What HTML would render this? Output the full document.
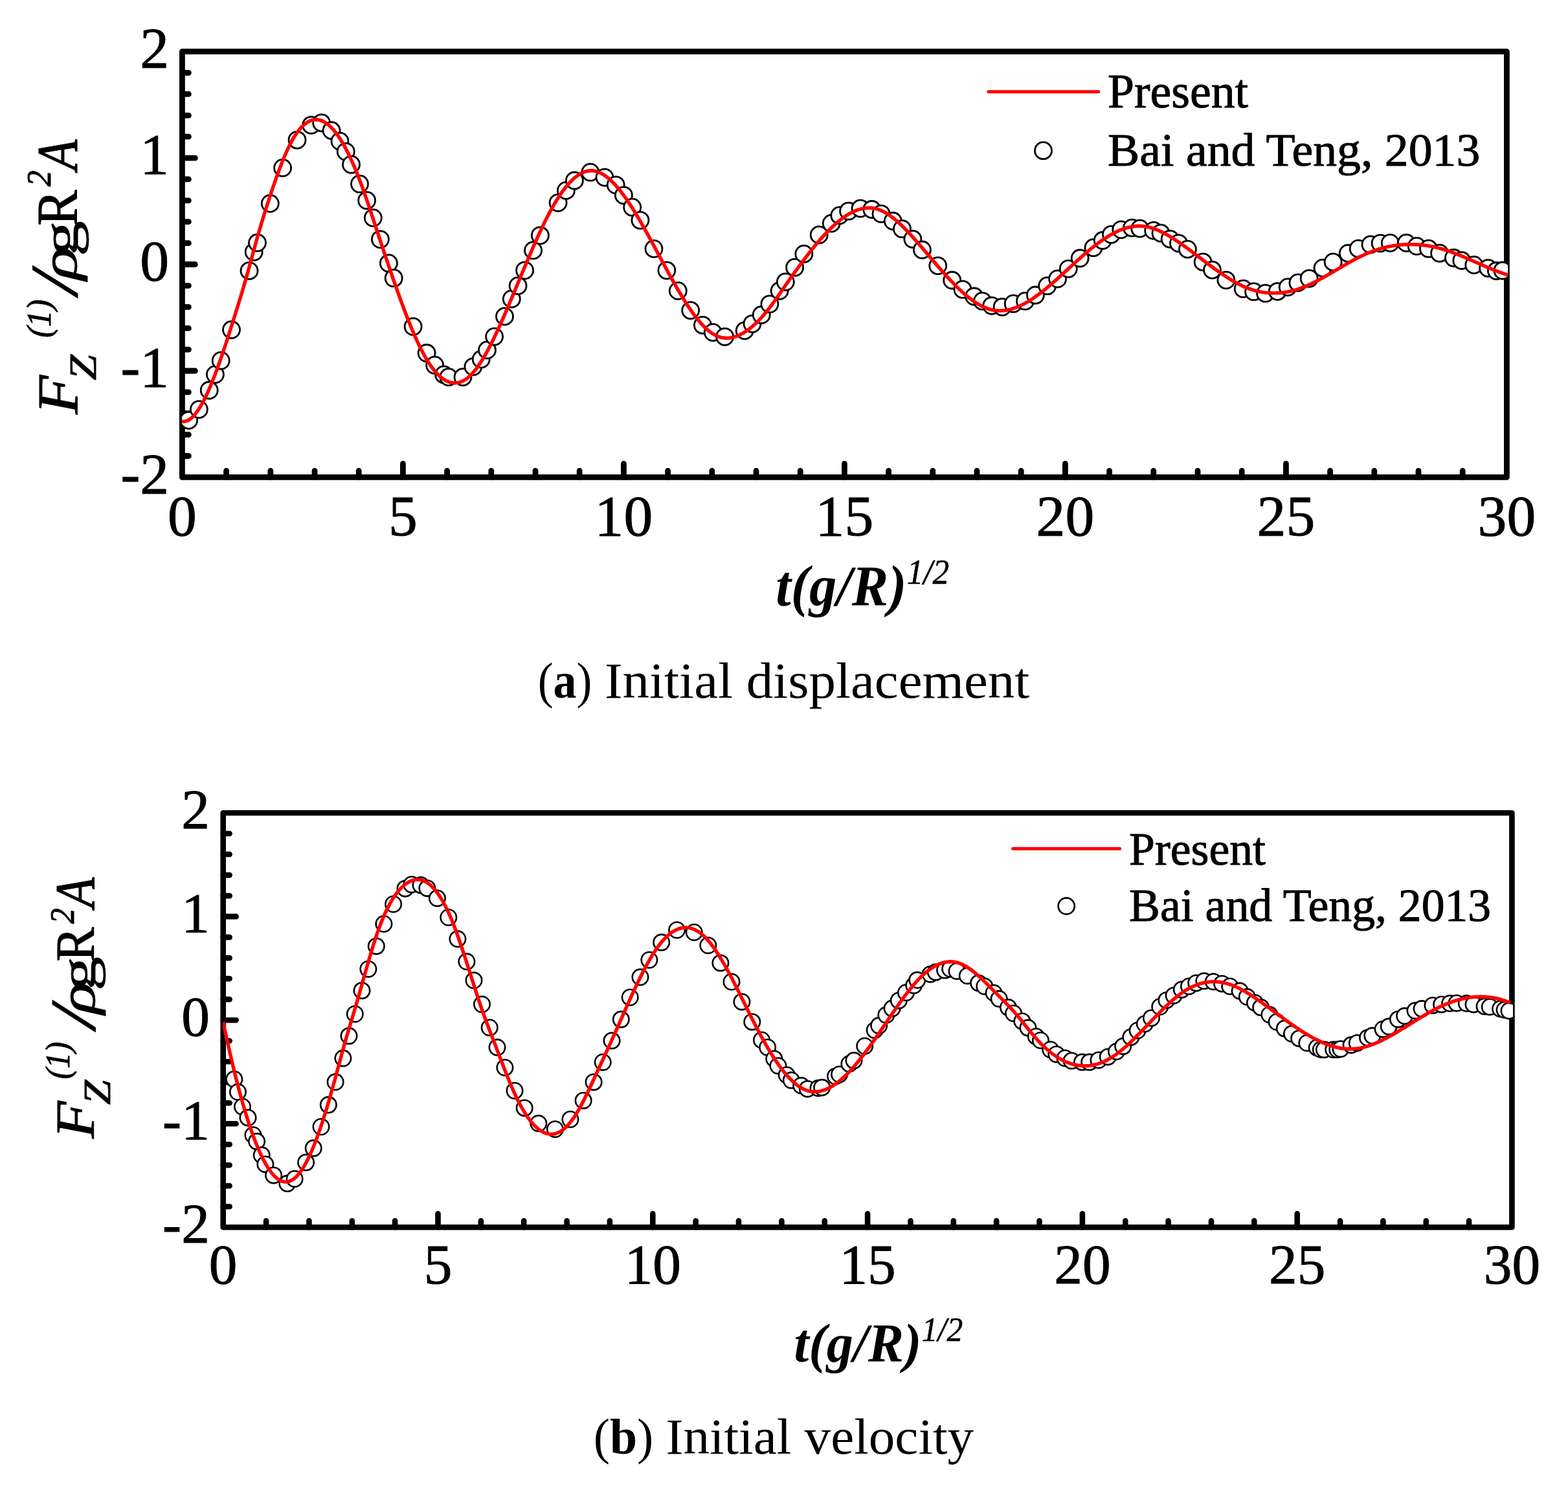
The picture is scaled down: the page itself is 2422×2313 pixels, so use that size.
<!DOCTYPE html>
<html><head><meta charset="utf-8"><title>Figure</title>
<style>html,body{margin:0;padding:0;background:#fff;} svg{display:block;} text{font-family:"Liberation Serif","Times New Roman",serif;fill:#000;stroke:#000;stroke-linejoin:round;}</style>
</head><body>
<svg xmlns="http://www.w3.org/2000/svg" width="2422" height="2313" viewBox="0 0 2422 2313">
<rect width="2422" height="2313" fill="#fff"/>
<rect x="281.4" y="79.6" width="2046.0" height="657.8" fill="none" stroke="#000" stroke-width="8.8" stroke-linejoin="round"/>
<path d="M349.6,737.4V727.4M417.8,737.4V727.4M486.0,737.4V727.4M554.2,737.4V727.4M622.4,737.4V716.4M690.6,737.4V727.4M758.8,737.4V727.4M827.0,737.4V727.4M895.2,737.4V727.4M963.4,737.4V716.4M1031.6,737.4V727.4M1099.8,737.4V727.4M1168.0,737.4V727.4M1236.2,737.4V727.4M1304.4,737.4V716.4M1372.6,737.4V727.4M1440.8,737.4V727.4M1509.0,737.4V727.4M1577.2,737.4V727.4M1645.4,737.4V716.4M1713.6,737.4V727.4M1781.8,737.4V727.4M1850.0,737.4V727.4M1918.2,737.4V727.4M1986.4,737.4V716.4M2054.6,737.4V727.4M2122.8,737.4V727.4M2191.0,737.4V727.4M2259.2,737.4V727.4M281.4,704.5H291.4M281.4,671.6H291.4M281.4,638.7H291.4M281.4,605.8H291.4M281.4,573.0H301.4M281.4,540.1H291.4M281.4,507.2H291.4M281.4,474.3H291.4M281.4,441.4H291.4M281.4,408.5H301.4M281.4,375.6H291.4M281.4,342.7H291.4M281.4,309.8H291.4M281.4,276.9H291.4M281.4,244.1H301.4M281.4,211.2H291.4M281.4,178.3H291.4M281.4,145.4H291.4M281.4,112.5H291.4" stroke="#000" stroke-width="8.8" stroke-linecap="round" fill="none"/>
<g font-size="89.6" stroke-width="1.0"><text x="261.1" y="104.0" text-anchor="end">2</text><text x="261.1" y="268.4" text-anchor="end">1</text><text x="261.1" y="432.9" text-anchor="end">0</text><text x="261.1" y="597.4" text-anchor="end">-1</text><text x="261.1" y="761.8" text-anchor="end">-2</text><text x="281.4" y="827.0" text-anchor="middle">0</text><text x="622.4" y="827.0" text-anchor="middle">5</text><text x="963.4" y="827.0" text-anchor="middle">10</text><text x="1304.4" y="827.0" text-anchor="middle">15</text><text x="1645.4" y="827.0" text-anchor="middle">20</text><text x="1986.4" y="827.0" text-anchor="middle">25</text><text x="2327.4" y="827.0" text-anchor="middle">30</text></g>
<clipPath id="clipa"><rect x="280.9" y="59.599999999999994" width="2048.3" height="697.8"/></clipPath>
<g clip-path="url(#clipa)"><g fill="#fff" stroke="#000" stroke-width="2.8"><circle cx="291.6" cy="649.3" r="13.0"/><circle cx="307.4" cy="632.6" r="13.0"/><circle cx="323.2" cy="603.0" r="13.0"/><circle cx="332.4" cy="578.6" r="13.0"/><circle cx="341.2" cy="557.2" r="13.0"/><circle cx="357.5" cy="509.5" r="13.0"/><circle cx="385.0" cy="418.4" r="13.0"/><circle cx="392.2" cy="389.2" r="13.0"/><circle cx="397.5" cy="375.1" r="13.0"/><circle cx="417.3" cy="314.4" r="13.0"/><circle cx="436.6" cy="259.4" r="13.0"/><circle cx="459.0" cy="216.3" r="13.0"/><circle cx="480.7" cy="193.3" r="13.0"/><circle cx="496.7" cy="189.9" r="13.0"/><circle cx="512.0" cy="201.6" r="13.0"/><circle cx="525.0" cy="218.2" r="13.0"/><circle cx="534.2" cy="234.3" r="13.0"/><circle cx="542.5" cy="254.2" r="13.0"/><circle cx="555.5" cy="284.2" r="13.0"/><circle cx="566.6" cy="309.7" r="13.0"/><circle cx="576.3" cy="336.6" r="13.0"/><circle cx="587.4" cy="369.8" r="13.0"/><circle cx="600.4" cy="406.7" r="13.0"/><circle cx="608.2" cy="429.7" r="13.0"/><circle cx="638.1" cy="504.6" r="13.0"/><circle cx="659.1" cy="545.5" r="13.0"/><circle cx="671.6" cy="564.2" r="13.0"/><circle cx="685.6" cy="578.9" r="13.0"/><circle cx="692.9" cy="582.6" r="13.0"/><circle cx="715.0" cy="582.6" r="13.0"/><circle cx="730.9" cy="566.6" r="13.0"/><circle cx="743.2" cy="555.1" r="13.0"/><circle cx="752.5" cy="540.9" r="13.0"/><circle cx="763.6" cy="520.1" r="13.0"/><circle cx="779.5" cy="488.9" r="13.0"/><circle cx="790.3" cy="461.9" r="13.0"/><circle cx="800.1" cy="441.6" r="13.0"/><circle cx="810.6" cy="417.8" r="13.0"/><circle cx="823.6" cy="386.9" r="13.0"/><circle cx="834.4" cy="363.8" r="13.0"/><circle cx="862.1" cy="313.3" r="13.0"/><circle cx="874.4" cy="294.4" r="13.0"/><circle cx="887.4" cy="279.0" r="13.0"/><circle cx="911.9" cy="266.2" r="13.0"/><circle cx="934.0" cy="274.1" r="13.0"/><circle cx="951.2" cy="285.8" r="13.0"/><circle cx="963.4" cy="301.8" r="13.0"/><circle cx="976.7" cy="320.2" r="13.0"/><circle cx="988.9" cy="340.3" r="13.0"/><circle cx="1010.0" cy="384.4" r="13.0"/><circle cx="1029.8" cy="417.8" r="13.0"/><circle cx="1047.3" cy="449.4" r="13.0"/><circle cx="1066.7" cy="479.6" r="13.0"/><circle cx="1085.4" cy="502.4" r="13.0"/><circle cx="1101.3" cy="513.6" r="13.0"/><circle cx="1119.6" cy="520.3" r="13.0"/><circle cx="1150.2" cy="510.9" r="13.0"/><circle cx="1162.0" cy="500.3" r="13.0"/><circle cx="1176.2" cy="486.5" r="13.0"/><circle cx="1188.9" cy="469.8" r="13.0"/><circle cx="1204.1" cy="449.4" r="13.0"/><circle cx="1213.3" cy="435.6" r="13.0"/><circle cx="1227.6" cy="413.2" r="13.0"/><circle cx="1241.8" cy="392.4" r="13.0"/><circle cx="1265.2" cy="362.9" r="13.0"/><circle cx="1284.2" cy="345.1" r="13.0"/><circle cx="1296.8" cy="332.9" r="13.0"/><circle cx="1310.6" cy="326.2" r="13.0"/><circle cx="1329.0" cy="322.1" r="13.0"/><circle cx="1346.7" cy="323.5" r="13.0"/><circle cx="1361.0" cy="330.3" r="13.0"/><circle cx="1379.3" cy="341.5" r="13.0"/><circle cx="1393.5" cy="353.7" r="13.0"/><circle cx="1409.9" cy="369.5" r="13.0"/><circle cx="1424.4" cy="386.0" r="13.0"/><circle cx="1448.7" cy="410.6" r="13.0"/><circle cx="1470.7" cy="433.0" r="13.0"/><circle cx="1487.0" cy="447.2" r="13.0"/><circle cx="1504.7" cy="458.0" r="13.0"/><circle cx="1517.5" cy="465.2" r="13.0"/><circle cx="1531.8" cy="472.3" r="13.0"/><circle cx="1548.1" cy="474.3" r="13.0"/><circle cx="1565.2" cy="469.2" r="13.0"/><circle cx="1583.5" cy="465.2" r="13.0"/><circle cx="1599.4" cy="456.0" r="13.0"/><circle cx="1617.7" cy="441.7" r="13.0"/><circle cx="1633.6" cy="430.9" r="13.0"/><circle cx="1650.3" cy="415.3" r="13.0"/><circle cx="1668.2" cy="399.0" r="13.0"/><circle cx="1689.0" cy="382.7" r="13.0"/><circle cx="1703.3" cy="371.5" r="13.0"/><circle cx="1716.5" cy="362.3" r="13.0"/><circle cx="1731.8" cy="354.8" r="13.0"/><circle cx="1748.5" cy="352.1" r="13.0"/><circle cx="1760.7" cy="353.1" r="13.0"/><circle cx="1781.7" cy="356.2" r="13.0"/><circle cx="1793.0" cy="360.2" r="13.0"/><circle cx="1807.2" cy="369.3" r="13.0"/><circle cx="1820.5" cy="375.8" r="13.0"/><circle cx="1834.4" cy="385.1" r="13.0"/><circle cx="1858.2" cy="404.9" r="13.0"/><circle cx="1872.5" cy="417.1" r="13.0"/><circle cx="1893.9" cy="432.8" r="13.0"/><circle cx="1920.3" cy="446.2" r="13.0"/><circle cx="1936.6" cy="450.7" r="13.0"/><circle cx="1954.6" cy="453.2" r="13.0"/><circle cx="1973.3" cy="450.3" r="13.0"/><circle cx="1989.2" cy="443.6" r="13.0"/><circle cx="2004.9" cy="436.9" r="13.0"/><circle cx="2022.2" cy="430.3" r="13.0"/><circle cx="2043.0" cy="414.1" r="13.0"/><circle cx="2059.2" cy="404.9" r="13.0"/><circle cx="2082.3" cy="391.4" r="13.0"/><circle cx="2098.2" cy="384.2" r="13.0"/><circle cx="2117.0" cy="377.9" r="13.0"/><circle cx="2132.1" cy="375.8" r="13.0"/><circle cx="2147.3" cy="375.4" r="13.0"/><circle cx="2172.3" cy="375.4" r="13.0"/><circle cx="2188.3" cy="380.4" r="13.0"/><circle cx="2206.5" cy="384.2" r="13.0"/><circle cx="2223.6" cy="391.2" r="13.0"/><circle cx="2245.5" cy="398.5" r="13.0"/><circle cx="2257.8" cy="402.5" r="13.0"/><circle cx="2276.8" cy="409.4" r="13.0"/><circle cx="2298.6" cy="414.3" r="13.0"/><circle cx="2311.4" cy="418.5" r="13.0"/><circle cx="2321.0" cy="418.0" r="13.0"/></g>
<path d="M281.0,650.9 L283.0,651.2 L285.0,651.1 L287.0,650.7 L289.0,650.1 L291.0,649.2 L293.0,647.9 L295.0,646.4 L297.0,644.7 L299.0,642.7 L301.0,640.4 L303.0,637.9 L305.0,635.2 L307.0,632.3 L309.0,629.1 L311.0,625.7 L313.0,622.1 L315.0,618.3 L317.0,614.3 L319.0,610.2 L321.0,605.8 L323.0,601.3 L325.0,596.6 L327.0,591.8 L329.0,586.8 L331.0,581.7 L333.0,576.5 L335.0,571.1 L337.0,565.6 L339.0,560.0 L341.0,554.3 L343.0,548.5 L345.0,542.6 L347.0,536.6 L349.0,530.5 L351.0,524.4 L353.0,518.2 L355.0,512.0 L357.0,505.7 L359.0,499.4 L361.0,493.0 L363.0,486.6 L365.0,480.2 L367.0,473.8 L369.0,467.3 L371.0,460.8 L373.0,454.2 L375.0,447.5 L377.0,440.7 L379.0,433.8 L381.0,426.8 L383.0,419.7 L385.0,412.4 L387.0,405.0 L389.0,397.7 L391.0,390.3 L393.0,383.0 L395.0,375.7 L397.0,368.6 L399.0,361.7 L401.0,354.8 L403.0,348.0 L405.0,341.3 L407.0,334.8 L409.0,328.3 L411.0,322.0 L413.0,315.7 L415.0,309.5 L417.0,303.4 L419.0,297.4 L421.0,291.4 L423.0,285.5 L425.0,279.8 L427.0,274.1 L429.0,268.5 L431.0,263.1 L433.0,257.8 L435.0,252.6 L437.0,247.6 L439.0,242.7 L441.0,238.0 L443.0,233.5 L445.0,229.2 L447.0,225.1 L449.0,221.1 L451.0,217.4 L453.0,213.9 L455.0,210.6 L457.0,207.5 L459.0,204.7 L461.0,202.0 L463.0,199.5 L465.0,197.2 L467.0,195.1 L469.0,193.2 L471.0,191.5 L473.0,190.0 L475.0,188.7 L477.0,187.6 L479.0,186.7 L481.0,185.9 L483.0,185.4 L485.0,185.0 L487.0,184.8 L489.0,184.8 L491.0,185.0 L493.0,185.3 L495.0,185.9 L497.0,186.6 L499.0,187.4 L501.0,188.5 L503.0,189.7 L505.0,191.1 L507.0,192.7 L509.0,194.4 L511.0,196.3 L513.0,198.3 L515.0,200.5 L517.0,202.9 L519.0,205.5 L521.0,208.2 L523.0,211.0 L525.0,214.0 L527.0,217.2 L529.0,220.5 L531.0,223.9 L533.0,227.6 L535.0,231.3 L537.0,235.2 L539.0,239.3 L541.0,243.5 L543.0,247.8 L545.0,252.3 L547.0,256.9 L549.0,261.6 L551.0,266.5 L553.0,271.5 L555.0,276.7 L557.0,282.0 L559.0,287.4 L561.0,292.9 L563.0,298.6 L565.0,304.3 L567.0,310.1 L569.0,316.0 L571.0,322.0 L573.0,328.0 L575.0,334.1 L577.0,340.2 L579.0,346.3 L581.0,352.4 L583.0,358.5 L585.0,364.7 L587.0,370.7 L589.0,376.8 L591.0,382.8 L593.0,388.8 L595.0,394.8 L597.0,400.7 L599.0,406.6 L601.0,412.5 L603.0,418.4 L605.0,424.2 L607.0,430.0 L609.0,435.8 L611.0,441.5 L613.0,447.2 L615.0,452.9 L617.0,458.4 L619.0,464.0 L621.0,469.4 L623.0,474.8 L625.0,480.1 L627.0,485.4 L629.0,490.5 L631.0,495.6 L633.0,500.6 L635.0,505.5 L637.0,510.3 L639.0,515.0 L641.0,519.6 L643.0,524.0 L645.0,528.4 L647.0,532.6 L649.0,536.7 L651.0,540.7 L653.0,544.5 L655.0,548.2 L657.0,551.8 L659.0,555.2 L661.0,558.5 L663.0,561.6 L665.0,564.6 L667.0,567.4 L669.0,570.0 L671.0,572.5 L673.0,574.9 L675.0,577.1 L677.0,579.2 L679.0,581.0 L681.0,582.8 L683.0,584.4 L685.0,585.8 L687.0,587.1 L689.0,588.2 L691.0,589.2 L693.0,590.0 L695.0,590.7 L697.0,591.2 L699.0,591.5 L701.0,591.7 L703.0,591.7 L705.0,591.6 L707.0,591.3 L709.0,590.9 L711.0,590.3 L713.0,589.5 L715.0,588.6 L717.0,587.5 L719.0,586.3 L721.0,584.9 L723.0,583.3 L725.0,581.6 L727.0,579.7 L729.0,577.6 L731.0,575.4 L733.0,573.0 L735.0,570.5 L737.0,567.9 L739.0,565.1 L741.0,562.1 L743.0,559.1 L745.0,555.9 L747.0,552.6 L749.0,549.2 L751.0,545.6 L753.0,542.0 L755.0,538.3 L757.0,534.4 L759.0,530.5 L761.0,526.5 L763.0,522.4 L765.0,518.2 L767.0,514.0 L769.0,509.7 L771.0,505.3 L773.0,500.8 L775.0,496.4 L777.0,491.8 L779.0,487.2 L781.0,482.6 L783.0,477.9 L785.0,473.3 L787.0,468.5 L789.0,463.8 L791.0,459.1 L793.0,454.3 L795.0,449.5 L797.0,444.7 L799.0,439.9 L801.0,435.1 L803.0,430.4 L805.0,425.6 L807.0,420.8 L809.0,416.0 L811.0,411.3 L813.0,406.5 L815.0,401.8 L817.0,397.1 L819.0,392.5 L821.0,387.8 L823.0,383.2 L825.0,378.6 L827.0,374.1 L829.0,369.6 L831.0,365.2 L833.0,360.8 L835.0,356.5 L837.0,352.2 L839.0,348.1 L841.0,343.9 L843.0,339.9 L845.0,335.9 L847.0,332.1 L849.0,328.3 L851.0,324.6 L853.0,321.0 L855.0,317.5 L857.0,314.0 L859.0,310.7 L861.0,307.5 L863.0,304.4 L865.0,301.4 L867.0,298.4 L869.0,295.6 L871.0,292.9 L873.0,290.3 L875.0,287.8 L877.0,285.4 L879.0,283.2 L881.0,281.0 L883.0,279.0 L885.0,277.1 L887.0,275.3 L889.0,273.6 L891.0,272.1 L893.0,270.7 L895.0,269.4 L897.0,268.2 L899.0,267.2 L901.0,266.3 L903.0,265.5 L905.0,264.9 L907.0,264.4 L909.0,264.0 L911.0,263.8 L913.0,263.7 L915.0,263.8 L917.0,264.0 L919.0,264.4 L921.0,264.8 L923.0,265.5 L925.0,266.2 L927.0,267.1 L929.0,268.1 L931.0,269.2 L933.0,270.4 L935.0,271.8 L937.0,273.2 L939.0,274.8 L941.0,276.5 L943.0,278.3 L945.0,280.2 L947.0,282.1 L949.0,284.2 L951.0,286.4 L953.0,288.7 L955.0,291.0 L957.0,293.5 L959.0,296.0 L961.0,298.6 L963.0,301.3 L965.0,304.0 L967.0,306.8 L969.0,309.7 L971.0,312.7 L973.0,315.7 L975.0,318.8 L977.0,321.9 L979.0,325.1 L981.0,328.4 L983.0,331.7 L985.0,335.0 L987.0,338.4 L989.0,341.9 L991.0,345.3 L993.0,348.8 L995.0,352.4 L997.0,356.0 L999.0,359.6 L1001.0,363.2 L1003.0,366.8 L1005.0,370.5 L1007.0,374.2 L1009.0,377.9 L1011.0,381.6 L1013.0,385.3 L1015.0,389.0 L1017.0,392.8 L1019.0,396.5 L1021.0,400.2 L1023.0,404.0 L1025.0,407.7 L1027.0,411.4 L1029.0,415.1 L1031.0,418.7 L1033.0,422.4 L1035.0,426.0 L1037.0,429.7 L1039.0,433.2 L1041.0,436.8 L1043.0,440.3 L1045.0,443.8 L1047.0,447.3 L1049.0,450.7 L1051.0,454.0 L1053.0,457.4 L1055.0,460.6 L1057.0,463.9 L1059.0,467.0 L1061.0,470.2 L1063.0,473.2 L1065.0,476.2 L1067.0,479.1 L1069.0,482.0 L1071.0,484.8 L1073.0,487.5 L1075.0,490.1 L1077.0,492.6 L1079.0,495.1 L1081.0,497.5 L1083.0,499.8 L1085.0,501.9 L1087.0,504.0 L1089.0,506.0 L1091.0,507.9 L1093.0,509.7 L1095.0,511.4 L1097.0,512.9 L1099.0,514.4 L1101.0,515.7 L1103.0,516.9 L1105.0,518.0 L1107.0,519.0 L1109.0,519.8 L1111.0,520.5 L1113.0,521.1 L1115.0,521.6 L1117.0,521.9 L1119.0,522.2 L1121.0,522.3 L1123.0,522.4 L1125.0,522.3 L1127.0,522.1 L1129.0,521.8 L1131.0,521.5 L1133.0,521.0 L1135.0,520.4 L1137.0,519.7 L1139.0,519.0 L1141.0,518.2 L1143.0,517.2 L1145.0,516.2 L1147.0,515.1 L1149.0,513.9 L1151.0,512.7 L1153.0,511.3 L1155.0,509.9 L1157.0,508.5 L1159.0,506.9 L1161.0,505.3 L1163.0,503.6 L1165.0,501.8 L1167.0,500.0 L1169.0,498.0 L1171.0,496.1 L1173.0,494.0 L1175.0,491.9 L1177.0,489.7 L1179.0,487.4 L1181.0,485.1 L1183.0,482.7 L1185.0,480.2 L1187.0,477.7 L1189.0,475.1 L1191.0,472.5 L1193.0,469.8 L1195.0,467.0 L1197.0,464.2 L1199.0,461.4 L1201.0,458.6 L1203.0,455.7 L1205.0,452.9 L1207.0,450.0 L1209.0,447.1 L1211.0,444.2 L1213.0,441.3 L1215.0,438.5 L1217.0,435.6 L1219.0,432.8 L1221.0,429.9 L1223.0,427.1 L1225.0,424.3 L1227.0,421.5 L1229.0,418.7 L1231.0,416.0 L1233.0,413.2 L1235.0,410.5 L1237.0,407.8 L1239.0,405.1 L1241.0,402.4 L1243.0,399.8 L1245.0,397.2 L1247.0,394.6 L1249.0,392.0 L1251.0,389.4 L1253.0,386.9 L1255.0,384.4 L1257.0,382.0 L1259.0,379.5 L1261.0,377.1 L1263.0,374.8 L1265.0,372.4 L1267.0,370.1 L1269.0,367.9 L1271.0,365.6 L1273.0,363.4 L1275.0,361.3 L1277.0,359.2 L1279.0,357.1 L1281.0,355.1 L1283.0,353.1 L1285.0,351.2 L1287.0,349.3 L1289.0,347.4 L1291.0,345.6 L1293.0,343.9 L1295.0,342.2 L1297.0,340.6 L1299.0,339.0 L1301.0,337.5 L1303.0,336.0 L1305.0,334.6 L1307.0,333.3 L1309.0,332.0 L1311.0,330.8 L1313.0,329.7 L1315.0,328.6 L1317.0,327.6 L1319.0,326.6 L1321.0,325.7 L1323.0,324.9 L1325.0,324.2 L1327.0,323.6 L1329.0,323.0 L1331.0,322.5 L1333.0,322.1 L1335.0,321.7 L1337.0,321.5 L1339.0,321.3 L1341.0,321.2 L1343.0,321.2 L1345.0,321.3 L1347.0,321.4 L1349.0,321.7 L1351.0,322.1 L1353.0,322.5 L1355.0,323.0 L1357.0,323.7 L1359.0,324.4 L1361.0,325.2 L1363.0,326.1 L1365.0,327.1 L1367.0,328.2 L1369.0,329.4 L1371.0,330.6 L1373.0,331.9 L1375.0,333.3 L1377.0,334.8 L1379.0,336.3 L1381.0,337.9 L1383.0,339.5 L1385.0,341.2 L1387.0,343.0 L1389.0,344.8 L1391.0,346.7 L1393.0,348.6 L1395.0,350.6 L1397.0,352.6 L1399.0,354.6 L1401.0,356.7 L1403.0,358.8 L1405.0,361.0 L1407.0,363.1 L1409.0,365.3 L1411.0,367.6 L1413.0,369.8 L1415.0,372.1 L1417.0,374.4 L1419.0,376.6 L1421.0,379.0 L1423.0,381.3 L1425.0,383.6 L1427.0,385.9 L1429.0,388.3 L1431.0,390.6 L1433.0,393.0 L1435.0,395.3 L1437.0,397.7 L1439.0,400.0 L1441.0,402.4 L1443.0,404.7 L1445.0,407.0 L1447.0,409.4 L1449.0,411.7 L1451.0,414.0 L1453.0,416.3 L1455.0,418.5 L1457.0,420.8 L1459.0,423.1 L1461.0,425.3 L1463.0,427.5 L1465.0,429.7 L1467.0,431.8 L1469.0,433.9 L1471.0,436.0 L1473.0,438.1 L1475.0,440.2 L1477.0,442.2 L1479.0,444.1 L1481.0,446.1 L1483.0,448.0 L1485.0,449.9 L1487.0,451.7 L1489.0,453.5 L1491.0,455.2 L1493.0,456.9 L1495.0,458.6 L1497.0,460.2 L1499.0,461.7 L1501.0,463.2 L1503.0,464.6 L1505.0,466.0 L1507.0,467.4 L1509.0,468.7 L1511.0,469.9 L1513.0,471.0 L1515.0,472.1 L1517.0,473.2 L1519.0,474.1 L1521.0,475.0 L1523.0,475.9 L1525.0,476.6 L1527.0,477.3 L1529.0,477.9 L1531.0,478.5 L1533.0,478.9 L1535.0,479.3 L1537.0,479.6 L1539.0,479.8 L1541.0,480.0 L1543.0,480.1 L1545.0,480.1 L1547.0,480.0 L1549.0,479.9 L1551.0,479.7 L1553.0,479.5 L1555.0,479.2 L1557.0,478.8 L1559.0,478.4 L1561.0,477.9 L1563.0,477.3 L1565.0,476.7 L1567.0,476.0 L1569.0,475.3 L1571.0,474.5 L1573.0,473.7 L1575.0,472.8 L1577.0,471.8 L1579.0,470.9 L1581.0,469.8 L1583.0,468.8 L1585.0,467.6 L1587.0,466.5 L1589.0,465.3 L1591.0,464.0 L1593.0,462.7 L1595.0,461.4 L1597.0,460.1 L1599.0,458.7 L1601.0,457.2 L1603.0,455.8 L1605.0,454.3 L1607.0,452.8 L1609.0,451.2 L1611.0,449.7 L1613.0,448.1 L1615.0,446.4 L1617.0,444.8 L1619.0,443.1 L1621.0,441.4 L1623.0,439.7 L1625.0,438.0 L1627.0,436.3 L1629.0,434.5 L1631.0,432.7 L1633.0,430.9 L1635.0,429.1 L1637.0,427.3 L1639.0,425.5 L1641.0,423.7 L1643.0,421.9 L1645.0,420.1 L1647.0,418.2 L1649.0,416.4 L1651.0,414.5 L1653.0,412.7 L1655.0,410.9 L1657.0,409.0 L1659.0,407.2 L1661.0,405.4 L1663.0,403.6 L1665.0,401.8 L1667.0,400.0 L1669.0,398.2 L1671.0,396.4 L1673.0,394.7 L1675.0,392.9 L1677.0,391.2 L1679.0,389.5 L1681.0,387.8 L1683.0,386.2 L1685.0,384.5 L1687.0,382.9 L1689.0,381.3 L1691.0,379.7 L1693.0,378.2 L1695.0,376.7 L1697.0,375.2 L1699.0,373.7 L1701.0,372.3 L1703.0,370.9 L1705.0,369.5 L1707.0,368.2 L1709.0,366.9 L1711.0,365.6 L1713.0,364.4 L1715.0,363.2 L1717.0,362.1 L1719.0,361.0 L1721.0,359.9 L1723.0,358.9 L1725.0,357.9 L1727.0,357.0 L1729.0,356.1 L1731.0,355.3 L1733.0,354.5 L1735.0,353.7 L1737.0,353.1 L1739.0,352.4 L1741.0,351.8 L1743.0,351.3 L1745.0,350.8 L1747.0,350.4 L1749.0,350.1 L1751.0,349.8 L1753.0,349.5 L1755.0,349.4 L1757.0,349.2 L1759.0,349.2 L1761.0,349.2 L1763.0,349.3 L1765.0,349.4 L1767.0,349.7 L1769.0,349.9 L1771.0,350.3 L1773.0,350.7 L1775.0,351.1 L1777.0,351.7 L1779.0,352.3 L1781.0,352.9 L1783.0,353.6 L1785.0,354.3 L1787.0,355.1 L1789.0,355.9 L1791.0,356.8 L1793.0,357.8 L1795.0,358.7 L1797.0,359.7 L1799.0,360.8 L1801.0,361.9 L1803.0,363.0 L1805.0,364.2 L1807.0,365.3 L1809.0,366.6 L1811.0,367.8 L1813.0,369.1 L1815.0,370.4 L1817.0,371.7 L1819.0,373.0 L1821.0,374.4 L1823.0,375.8 L1825.0,377.2 L1827.0,378.6 L1829.0,380.0 L1831.0,381.5 L1833.0,382.9 L1835.0,384.4 L1837.0,385.9 L1839.0,387.4 L1841.0,388.8 L1843.0,390.3 L1845.0,391.9 L1847.0,393.4 L1849.0,394.9 L1851.0,396.4 L1853.0,397.9 L1855.0,399.4 L1857.0,401.0 L1859.0,402.5 L1861.0,404.0 L1863.0,405.5 L1865.0,407.0 L1867.0,408.5 L1869.0,410.0 L1871.0,411.5 L1873.0,412.9 L1875.0,414.4 L1877.0,415.9 L1879.0,417.3 L1881.0,418.7 L1883.0,420.1 L1885.0,421.5 L1887.0,422.9 L1889.0,424.3 L1891.0,425.6 L1893.0,426.9 L1895.0,428.2 L1897.0,429.5 L1899.0,430.7 L1901.0,432.0 L1903.0,433.2 L1905.0,434.3 L1907.0,435.5 L1909.0,436.6 L1911.0,437.7 L1913.0,438.7 L1915.0,439.7 L1917.0,440.7 L1919.0,441.7 L1921.0,442.6 L1923.0,443.5 L1925.0,444.3 L1927.0,445.1 L1929.0,445.9 L1931.0,446.6 L1933.0,447.3 L1935.0,447.9 L1937.0,448.5 L1939.0,449.1 L1941.0,449.6 L1943.0,450.1 L1945.0,450.5 L1947.0,450.9 L1949.0,451.3 L1951.0,451.6 L1953.0,451.9 L1955.0,452.2 L1957.0,452.4 L1959.0,452.5 L1961.0,452.7 L1963.0,452.8 L1965.0,452.9 L1967.0,452.9 L1969.0,452.9 L1971.0,452.8 L1973.0,452.8 L1975.0,452.6 L1977.0,452.5 L1979.0,452.3 L1981.0,452.1 L1983.0,451.8 L1985.0,451.5 L1987.0,451.2 L1989.0,450.9 L1991.0,450.5 L1993.0,450.0 L1995.0,449.6 L1997.0,449.1 L1999.0,448.5 L2001.0,448.0 L2003.0,447.4 L2005.0,446.7 L2007.0,446.1 L2009.0,445.4 L2011.0,444.6 L2013.0,443.9 L2015.0,443.1 L2017.0,442.2 L2019.0,441.4 L2021.0,440.5 L2023.0,439.6 L2025.0,438.6 L2027.0,437.7 L2029.0,436.7 L2031.0,435.7 L2033.0,434.7 L2035.0,433.6 L2037.0,432.6 L2039.0,431.5 L2041.0,430.4 L2043.0,429.3 L2045.0,428.2 L2047.0,427.1 L2049.0,425.9 L2051.0,424.8 L2053.0,423.6 L2055.0,422.5 L2057.0,421.3 L2059.0,420.1 L2061.0,418.9 L2063.0,417.8 L2065.0,416.6 L2067.0,415.4 L2069.0,414.2 L2071.0,413.0 L2073.0,411.9 L2075.0,410.7 L2077.0,409.5 L2079.0,408.4 L2081.0,407.2 L2083.0,406.1 L2085.0,405.0 L2087.0,403.9 L2089.0,402.8 L2091.0,401.7 L2093.0,400.6 L2095.0,399.6 L2097.0,398.5 L2099.0,397.5 L2101.0,396.5 L2103.0,395.5 L2105.0,394.6 L2107.0,393.7 L2109.0,392.8 L2111.0,391.9 L2113.0,391.0 L2115.0,390.2 L2117.0,389.4 L2119.0,388.7 L2121.0,387.9 L2123.0,387.2 L2125.0,386.5 L2127.0,385.9 L2129.0,385.2 L2131.0,384.6 L2133.0,384.0 L2135.0,383.5 L2137.0,382.9 L2139.0,382.4 L2141.0,381.9 L2143.0,381.5 L2145.0,381.0 L2147.0,380.6 L2149.0,380.3 L2151.0,379.9 L2153.0,379.6 L2155.0,379.3 L2157.0,379.0 L2159.0,378.7 L2161.0,378.5 L2163.0,378.3 L2165.0,378.1 L2167.0,378.0 L2169.0,377.8 L2171.0,377.7 L2173.0,377.7 L2175.0,377.6 L2177.0,377.6 L2179.0,377.6 L2181.0,377.6 L2183.0,377.6 L2185.0,377.7 L2187.0,377.8 L2189.0,377.9 L2191.0,378.0 L2193.0,378.2 L2195.0,378.4 L2197.0,378.6 L2199.0,378.8 L2201.0,379.1 L2203.0,379.4 L2205.0,379.7 L2207.0,380.0 L2209.0,380.4 L2211.0,380.7 L2213.0,381.1 L2215.0,381.5 L2217.0,382.0 L2219.0,382.5 L2221.0,383.0 L2223.0,383.5 L2225.0,384.0 L2227.0,384.6 L2229.0,385.2 L2231.0,385.8 L2233.0,386.4 L2235.0,387.0 L2237.0,387.7 L2239.0,388.4 L2241.0,389.1 L2243.0,389.8 L2245.0,390.6 L2247.0,391.3 L2249.0,392.1 L2251.0,392.9 L2253.0,393.7 L2255.0,394.5 L2257.0,395.3 L2259.0,396.2 L2261.0,397.0 L2263.0,397.9 L2265.0,398.7 L2267.0,399.6 L2269.0,400.4 L2271.0,401.3 L2273.0,402.2 L2275.0,403.1 L2277.0,404.0 L2279.0,404.9 L2281.0,405.7 L2283.0,406.6 L2285.0,407.5 L2287.0,408.4 L2289.0,409.3 L2291.0,410.1 L2293.0,411.0 L2295.0,411.9 L2297.0,412.7 L2299.0,413.6 L2301.0,414.4 L2303.0,415.3 L2305.0,416.1 L2307.0,416.9 L2309.0,417.7 L2311.0,418.5 L2313.0,419.2 L2315.0,420.0 L2317.0,420.7 L2319.0,421.4 L2321.0,422.2 L2323.0,422.8 L2325.0,423.5 L2327.0,424.1 L2329.0,424.8 L2329.2,424.8" fill="none" stroke="#f00" stroke-width="5.4" stroke-linejoin="round"/></g>
<line x1="1526.9" y1="141.7" x2="1696.7" y2="141.7" stroke="#f00" stroke-width="5" stroke-linecap="round"/>
<circle cx="1611.5" cy="232.7" r="13.0" fill="#fff" stroke="#000" stroke-width="2.8"/>
<text transform="matrix(0.7371,0.0000,0.0000,0.7332,1711.0361,166.0000)" font-size="100" style="" stroke-width="1.360">Present</text>
<text transform="matrix(0.7377,0.0000,0.0000,0.7271,1711.0344,256.4000)" font-size="100" style="" stroke-width="1.365">Bai and Teng, 2013</text>
<text transform="matrix(0.0000,-0.9840,0.8826,0.0000,118.5000,640.0096)" font-size="100" style="font-style:italic" stroke-width="1.073">F</text>
<text transform="matrix(0.0000,-0.7101,0.5976,0.0000,147.6000,587.4522)" font-size="100" style="font-style:italic" stroke-width="1.535">Z</text>
<text transform="matrix(0.0000,-0.5073,0.5309,0.0000,78.4448,521.8262)" font-size="100" style="font-style:italic" stroke-width="1.927">(1)</text>
<text transform="matrix(0.0000,-1.2575,1.0313,0.0000,118.5687,454.7155)" font-size="100" style="font-style:italic" stroke-width="0.878">/</text>
<text transform="matrix(0.0000,-1.0672,0.7918,0.0000,118.4557,432.7252)" font-size="100" style="font-style:italic" stroke-width="1.088">ρ</text>
<text transform="matrix(0.0000,-1.0936,0.7857,0.0000,119.7286,395.9932)" font-size="100" style="" stroke-width="1.079">g</text>
<text transform="matrix(0.0000,-0.8276,0.8857,0.0000,118.4000,348.7172)" font-size="100" style="" stroke-width="1.168">R</text>
<text transform="matrix(0.0000,-0.4916,0.5302,0.0000,77.5000,288.0000)" font-size="100" style="font-style:italic" stroke-width="1.959">2</text>
<text transform="matrix(0.0000,-0.7740,0.8939,0.0000,118.4000,263.1207)" font-size="100" style="font-style:italic" stroke-width="1.202">A</text>
<text transform="matrix(0.8470,0.0000,0.0000,0.8852,1198.2590,935.3336)" font-size="100" style="font-style:italic;font-weight:bold" stroke-width="0.000">t(g/R)</text>
<text transform="matrix(0.5139,0.0000,0.0000,0.5402,1400.6498,901.8598)" font-size="100" style="font-style:italic" stroke-width="1.139">1/2</text>
<rect x="344.7" y="1256.0" width="1990.7" height="640.3" fill="none" stroke="#000" stroke-width="8.6" stroke-linejoin="round"/>
<path d="M411.1,1896.3V1886.3M477.4,1896.3V1886.3M543.8,1896.3V1886.3M610.1,1896.3V1886.3M676.5,1896.3V1875.3M742.9,1896.3V1886.3M809.2,1896.3V1886.3M875.6,1896.3V1886.3M941.9,1896.3V1886.3M1008.3,1896.3V1875.3M1074.7,1896.3V1886.3M1141.0,1896.3V1886.3M1207.4,1896.3V1886.3M1273.7,1896.3V1886.3M1340.1,1896.3V1875.3M1406.5,1896.3V1886.3M1472.8,1896.3V1886.3M1539.2,1896.3V1886.3M1605.5,1896.3V1886.3M1671.9,1896.3V1875.3M1738.3,1896.3V1886.3M1804.6,1896.3V1886.3M1871.0,1896.3V1886.3M1937.3,1896.3V1886.3M2003.7,1896.3V1875.3M2070.1,1896.3V1886.3M2136.4,1896.3V1886.3M2202.8,1896.3V1886.3M2269.1,1896.3V1886.3M344.7,1864.3H354.7M344.7,1832.3H354.7M344.7,1800.2H354.7M344.7,1768.2H354.7M344.7,1736.2H364.7M344.7,1704.2H354.7M344.7,1672.2H354.7M344.7,1640.2H354.7M344.7,1608.2H354.7M344.7,1576.2H364.7M344.7,1544.1H354.7M344.7,1512.1H354.7M344.7,1480.1H354.7M344.7,1448.1H354.7M344.7,1416.1H364.7M344.7,1384.1H354.7M344.7,1352.1H354.7M344.7,1320.0H354.7M344.7,1288.0H354.7" stroke="#000" stroke-width="8.6" stroke-linecap="round" fill="none"/>
<g font-size="87.3" stroke-width="1.0"><text x="323.8" y="1279.7" text-anchor="end">2</text><text x="323.8" y="1439.8" text-anchor="end">1</text><text x="323.8" y="1599.9" text-anchor="end">0</text><text x="323.8" y="1759.9" text-anchor="end">-1</text><text x="323.8" y="1920.0" text-anchor="end">-2</text><text x="344.7" y="1982.5" text-anchor="middle">0</text><text x="676.5" y="1982.5" text-anchor="middle">5</text><text x="1008.3" y="1982.5" text-anchor="middle">10</text><text x="1340.1" y="1982.5" text-anchor="middle">15</text><text x="1671.9" y="1982.5" text-anchor="middle">20</text><text x="2003.7" y="1982.5" text-anchor="middle">25</text><text x="2335.5" y="1982.5" text-anchor="middle">30</text></g>
<clipPath id="clipb"><rect x="344.2" y="1236.0" width="1992.8" height="680.3"/></clipPath>
<g clip-path="url(#clipb)"><g fill="#fff" stroke="#000" stroke-width="2.6"><circle cx="361.8" cy="1667.6" r="12.2"/><circle cx="367.5" cy="1687.3" r="12.2"/><circle cx="374.5" cy="1710.0" r="12.2"/><circle cx="383.0" cy="1726.9" r="12.2"/><circle cx="390.9" cy="1753.7" r="12.2"/><circle cx="396.6" cy="1763.6" r="12.2"/><circle cx="404.2" cy="1784.8" r="12.2"/><circle cx="409.9" cy="1798.9" r="12.2"/><circle cx="422.6" cy="1815.9" r="12.2"/><circle cx="443.8" cy="1828.6" r="12.2"/><circle cx="455.1" cy="1821.5" r="12.2"/><circle cx="472.6" cy="1796.1" r="12.2"/><circle cx="484.2" cy="1774.1" r="12.2"/><circle cx="496.0" cy="1741.0" r="12.2"/><circle cx="507.3" cy="1707.1" r="12.2"/><circle cx="518.1" cy="1671.8" r="12.2"/><circle cx="529.9" cy="1635.1" r="12.2"/><circle cx="539.0" cy="1600.6" r="12.2"/><circle cx="548.3" cy="1566.7" r="12.2"/><circle cx="559.0" cy="1530.6" r="12.2"/><circle cx="568.9" cy="1497.2" r="12.2"/><circle cx="581.3" cy="1461.9" r="12.2"/><circle cx="592.9" cy="1427.5" r="12.2"/><circle cx="607.6" cy="1397.0" r="12.2"/><circle cx="626.0" cy="1372.9" r="12.2"/><circle cx="635.8" cy="1366.7" r="12.2"/><circle cx="650.0" cy="1367.6" r="12.2"/><circle cx="659.9" cy="1372.4" r="12.2"/><circle cx="675.4" cy="1387.9" r="12.2"/><circle cx="692.8" cy="1417.5" r="12.2"/><circle cx="706.9" cy="1450.8" r="12.2"/><circle cx="720.9" cy="1485.8" r="12.2"/><circle cx="732.0" cy="1514.8" r="12.2"/><circle cx="744.5" cy="1551.8" r="12.2"/><circle cx="756.2" cy="1587.7" r="12.2"/><circle cx="768.0" cy="1618.3" r="12.2"/><circle cx="779.9" cy="1649.5" r="12.2"/><circle cx="795.0" cy="1685.2" r="12.2"/><circle cx="810.2" cy="1711.9" r="12.2"/><circle cx="831.8" cy="1735.8" r="12.2"/><circle cx="857.4" cy="1744.7" r="12.2"/><circle cx="880.9" cy="1729.5" r="12.2"/><circle cx="901.1" cy="1700.4" r="12.2"/><circle cx="917.1" cy="1671.9" r="12.2"/><circle cx="931.2" cy="1641.2" r="12.2"/><circle cx="945.1" cy="1607.9" r="12.2"/><circle cx="959.3" cy="1575.1" r="12.2"/><circle cx="973.2" cy="1541.0" r="12.2"/><circle cx="989.0" cy="1509.8" r="12.2"/><circle cx="1002.9" cy="1483.2" r="12.2"/><circle cx="1021.7" cy="1456.1" r="12.2"/><circle cx="1045.6" cy="1437.0" r="12.2"/><circle cx="1072.2" cy="1440.5" r="12.2"/><circle cx="1093.8" cy="1460.7" r="12.2"/><circle cx="1112.9" cy="1487.9" r="12.2"/><circle cx="1130.0" cy="1517.0" r="12.2"/><circle cx="1145.9" cy="1547.9" r="12.2"/><circle cx="1161.8" cy="1578.9" r="12.2"/><circle cx="1176.5" cy="1607.0" r="12.2"/><circle cx="1185.6" cy="1618.2" r="12.2"/><circle cx="1195.8" cy="1635.9" r="12.2"/><circle cx="1201.9" cy="1646.7" r="12.2"/><circle cx="1215.2" cy="1661.0" r="12.2"/><circle cx="1222.3" cy="1669.1" r="12.2"/><circle cx="1237.6" cy="1677.3" r="12.2"/><circle cx="1247.3" cy="1682.4" r="12.2"/><circle cx="1264.0" cy="1681.3" r="12.2"/><circle cx="1269.7" cy="1680.3" r="12.2"/><circle cx="1290.5" cy="1663.0" r="12.2"/><circle cx="1296.6" cy="1660.0" r="12.2"/><circle cx="1311.9" cy="1643.7" r="12.2"/><circle cx="1319.0" cy="1638.6" r="12.2"/><circle cx="1335.7" cy="1616.2" r="12.2"/><circle cx="1351.2" cy="1591.7" r="12.2"/><circle cx="1357.7" cy="1584.6" r="12.2"/><circle cx="1368.9" cy="1568.3" r="12.2"/><circle cx="1378.1" cy="1558.1" r="12.2"/><circle cx="1388.3" cy="1545.9" r="12.2"/><circle cx="1399.5" cy="1533.7" r="12.2"/><circle cx="1411.7" cy="1522.5" r="12.2"/><circle cx="1416.8" cy="1514.3" r="12.2"/><circle cx="1437.2" cy="1505.2" r="12.2"/><circle cx="1445.3" cy="1502.1" r="12.2"/><circle cx="1459.6" cy="1499.1" r="12.2"/><circle cx="1467.7" cy="1497.0" r="12.2"/><circle cx="1478.0" cy="1500.5" r="12.2"/><circle cx="1494.3" cy="1507.7" r="12.2"/><circle cx="1511.7" cy="1518.9" r="12.2"/><circle cx="1520.8" cy="1524.0" r="12.2"/><circle cx="1535.1" cy="1534.2" r="12.2"/><circle cx="1543.2" cy="1543.3" r="12.2"/><circle cx="1557.5" cy="1556.6" r="12.2"/><circle cx="1565.6" cy="1565.7" r="12.2"/><circle cx="1578.9" cy="1577.9" r="12.2"/><circle cx="1588.0" cy="1588.1" r="12.2"/><circle cx="1600.3" cy="1601.4" r="12.2"/><circle cx="1607.4" cy="1607.5" r="12.2"/><circle cx="1622.7" cy="1621.7" r="12.2"/><circle cx="1631.8" cy="1628.9" r="12.2"/><circle cx="1645.1" cy="1635.0" r="12.2"/><circle cx="1655.2" cy="1639.0" r="12.2"/><circle cx="1671.5" cy="1641.1" r="12.2"/><circle cx="1682.7" cy="1641.1" r="12.2"/><circle cx="1697.0" cy="1638.0" r="12.2"/><circle cx="1711.3" cy="1632.9" r="12.2"/><circle cx="1724.5" cy="1624.8" r="12.2"/><circle cx="1734.7" cy="1616.6" r="12.2"/><circle cx="1746.9" cy="1602.4" r="12.2"/><circle cx="1757.1" cy="1592.2" r="12.2"/><circle cx="1768.3" cy="1582.0" r="12.2"/><circle cx="1778.5" cy="1572.9" r="12.2"/><circle cx="1791.7" cy="1555.5" r="12.2"/><circle cx="1801.9" cy="1545.4" r="12.2"/><circle cx="1813.1" cy="1538.2" r="12.2"/><circle cx="1825.3" cy="1529.1" r="12.2"/><circle cx="1836.5" cy="1524.0" r="12.2"/><circle cx="1847.7" cy="1518.9" r="12.2"/><circle cx="1859.9" cy="1515.8" r="12.2"/><circle cx="1874.3" cy="1516.8" r="12.2"/><circle cx="1887.6" cy="1519.9" r="12.2"/><circle cx="1899.8" cy="1524.0" r="12.2"/><circle cx="1915.1" cy="1531.1" r="12.2"/><circle cx="1926.3" cy="1540.3" r="12.2"/><circle cx="1938.5" cy="1549.4" r="12.2"/><circle cx="1947.7" cy="1556.6" r="12.2"/><circle cx="1960.9" cy="1567.8" r="12.2"/><circle cx="1972.1" cy="1579.0" r="12.2"/><circle cx="1984.3" cy="1589.1" r="12.2"/><circle cx="1995.5" cy="1597.3" r="12.2"/><circle cx="2006.7" cy="1604.4" r="12.2"/><circle cx="2018.9" cy="1611.5" r="12.2"/><circle cx="2034.2" cy="1618.7" r="12.2"/><circle cx="2040.3" cy="1621.7" r="12.2"/><circle cx="2045.4" cy="1621.7" r="12.2"/><circle cx="2059.7" cy="1621.7" r="12.2"/><circle cx="2065.8" cy="1621.7" r="12.2"/><circle cx="2070.9" cy="1620.7" r="12.2"/><circle cx="2087.2" cy="1614.6" r="12.2"/><circle cx="2096.3" cy="1611.5" r="12.2"/><circle cx="2112.6" cy="1603.4" r="12.2"/><circle cx="2119.8" cy="1600.3" r="12.2"/><circle cx="2136.1" cy="1590.2" r="12.2"/><circle cx="2145.2" cy="1586.1" r="12.2"/><circle cx="2159.5" cy="1574.9" r="12.2"/><circle cx="2169.7" cy="1569.8" r="12.2"/><circle cx="2186.0" cy="1561.6" r="12.2"/><circle cx="2196.1" cy="1558.6" r="12.2"/><circle cx="2213.0" cy="1553.4" r="12.2"/><circle cx="2226.7" cy="1551.9" r="12.2"/><circle cx="2239.7" cy="1550.3" r="12.2"/><circle cx="2250.0" cy="1550.0" r="12.2"/><circle cx="2265.3" cy="1550.3" r="12.2"/><circle cx="2276.0" cy="1551.9" r="12.2"/><circle cx="2293.1" cy="1554.9" r="12.2"/><circle cx="2301.2" cy="1555.7" r="12.2"/><circle cx="2317.6" cy="1558.7" r="12.2"/><circle cx="2324.1" cy="1560.3" r="12.2"/><circle cx="2331.0" cy="1561.8" r="12.2"/></g>
<path d="M344.7,1579.0 L346.7,1588.5 L348.7,1597.8 L350.7,1607.0 L352.7,1616.0 L354.7,1624.8 L356.7,1633.5 L358.7,1642.0 L360.7,1650.4 L362.7,1658.5 L364.7,1666.5 L366.7,1674.3 L368.7,1682.0 L370.7,1689.5 L372.7,1696.7 L374.7,1703.9 L376.7,1710.8 L378.7,1717.5 L380.7,1724.1 L382.7,1730.4 L384.7,1736.6 L386.7,1742.6 L388.7,1748.4 L390.7,1754.0 L392.7,1759.4 L394.7,1764.6 L396.7,1769.6 L398.7,1774.4 L400.7,1779.0 L402.7,1783.4 L404.7,1787.6 L406.7,1791.6 L408.7,1795.4 L410.7,1798.9 L412.7,1802.3 L414.7,1805.4 L416.7,1808.4 L418.7,1811.1 L420.7,1813.6 L422.7,1815.8 L424.7,1817.9 L426.7,1819.7 L428.7,1821.3 L430.7,1822.7 L432.7,1823.8 L434.7,1824.7 L436.7,1825.4 L438.7,1825.9 L440.7,1826.1 L442.7,1826.0 L444.7,1825.8 L446.7,1825.3 L448.7,1824.5 L450.7,1823.5 L452.7,1822.3 L454.7,1820.8 L456.7,1819.1 L458.7,1817.1 L460.7,1814.9 L462.7,1812.4 L464.7,1809.7 L466.7,1806.8 L468.7,1803.6 L470.7,1800.2 L472.7,1796.6 L474.7,1792.8 L476.7,1788.7 L478.7,1784.4 L480.7,1780.0 L482.7,1775.3 L484.7,1770.5 L486.7,1765.4 L488.7,1760.2 L490.7,1754.8 L492.7,1749.2 L494.7,1743.4 L496.7,1737.5 L498.7,1731.4 L500.7,1725.2 L502.7,1718.8 L504.7,1712.2 L506.7,1705.5 L508.7,1698.7 L510.7,1691.7 L512.7,1684.6 L514.7,1677.4 L516.7,1670.1 L518.7,1662.8 L520.7,1655.3 L522.7,1647.9 L524.7,1640.5 L526.7,1633.1 L528.7,1625.8 L530.7,1618.5 L532.7,1611.4 L534.7,1604.3 L536.7,1597.5 L538.7,1590.7 L540.7,1584.0 L542.7,1577.4 L544.7,1570.8 L546.7,1564.1 L548.7,1557.3 L550.7,1550.4 L552.7,1543.4 L554.7,1536.4 L556.7,1529.3 L558.7,1522.2 L560.7,1515.1 L562.7,1508.0 L564.7,1500.9 L566.7,1493.9 L568.7,1487.0 L570.7,1480.1 L572.7,1473.4 L574.7,1466.8 L576.7,1460.3 L578.7,1454.0 L580.7,1447.9 L582.7,1442.0 L584.7,1436.3 L586.7,1430.9 L588.7,1425.6 L590.7,1420.7 L592.7,1415.9 L594.7,1411.4 L596.7,1407.1 L598.7,1403.0 L600.7,1399.2 L602.7,1395.5 L604.7,1392.1 L606.7,1388.8 L608.7,1385.7 L610.7,1382.9 L612.7,1380.2 L614.7,1377.6 L616.7,1375.3 L618.7,1373.1 L620.7,1371.0 L622.7,1369.2 L624.7,1367.4 L626.7,1365.9 L628.7,1364.5 L630.7,1363.2 L632.7,1362.1 L634.7,1361.2 L636.7,1360.4 L638.7,1359.8 L640.7,1359.4 L642.7,1359.1 L644.7,1359.0 L646.7,1359.1 L648.7,1359.4 L650.7,1359.8 L652.7,1360.3 L654.7,1361.1 L656.7,1362.0 L658.7,1363.1 L660.7,1364.4 L662.7,1365.9 L664.7,1367.5 L666.7,1369.3 L668.7,1371.3 L670.7,1373.5 L672.7,1375.9 L674.7,1378.4 L676.7,1381.2 L678.7,1384.1 L680.7,1387.2 L682.7,1390.5 L684.7,1394.0 L686.7,1397.7 L688.7,1401.5 L690.7,1405.6 L692.7,1409.8 L694.7,1414.3 L696.7,1418.9 L698.7,1423.8 L700.7,1428.8 L702.7,1434.0 L704.7,1439.4 L706.7,1444.9 L708.7,1450.6 L710.7,1456.4 L712.7,1462.3 L714.7,1468.3 L716.7,1474.4 L718.7,1480.5 L720.7,1486.7 L722.7,1493.0 L724.7,1499.3 L726.7,1505.6 L728.7,1511.8 L730.7,1518.1 L732.7,1524.4 L734.7,1530.6 L736.7,1536.8 L738.7,1542.8 L740.7,1548.9 L742.7,1554.8 L744.7,1560.6 L746.7,1566.3 L748.7,1571.8 L750.7,1577.3 L752.7,1582.6 L754.7,1587.9 L756.7,1593.1 L758.7,1598.2 L760.7,1603.4 L762.7,1608.6 L764.7,1613.8 L766.7,1619.1 L768.7,1624.3 L770.7,1629.6 L772.7,1634.8 L774.7,1640.0 L776.7,1645.3 L778.7,1650.4 L780.7,1655.6 L782.7,1660.6 L784.7,1665.6 L786.7,1670.5 L788.7,1675.3 L790.7,1680.0 L792.7,1684.6 L794.7,1689.1 L796.7,1693.4 L798.7,1697.6 L800.7,1701.6 L802.7,1705.5 L804.7,1709.2 L806.7,1712.8 L808.7,1716.2 L810.7,1719.5 L812.7,1722.6 L814.7,1725.6 L816.7,1728.4 L818.7,1731.0 L820.7,1733.6 L822.7,1735.9 L824.7,1738.1 L826.7,1740.2 L828.7,1742.0 L830.7,1743.8 L832.7,1745.4 L834.7,1746.8 L836.7,1748.0 L838.7,1749.1 L840.7,1750.1 L842.7,1750.9 L844.7,1751.5 L846.7,1751.9 L848.7,1752.2 L850.7,1752.4 L852.7,1752.3 L854.7,1752.1 L856.7,1751.8 L858.7,1751.3 L860.7,1750.6 L862.7,1749.7 L864.7,1748.7 L866.7,1747.5 L868.7,1746.1 L870.7,1744.6 L872.7,1742.9 L874.7,1741.1 L876.7,1739.0 L878.7,1736.8 L880.7,1734.4 L882.7,1731.9 L884.7,1729.2 L886.7,1726.3 L888.7,1723.2 L890.7,1720.0 L892.7,1716.6 L894.7,1713.1 L896.7,1709.5 L898.7,1705.8 L900.7,1702.0 L902.7,1698.0 L904.7,1694.0 L906.7,1689.9 L908.7,1685.8 L910.7,1681.5 L912.7,1677.3 L914.7,1673.0 L916.7,1668.7 L918.7,1664.4 L920.7,1660.0 L922.7,1655.7 L924.7,1651.3 L926.7,1647.0 L928.7,1642.7 L930.7,1638.3 L932.7,1634.0 L934.7,1629.6 L936.7,1625.3 L938.7,1620.9 L940.7,1616.5 L942.7,1612.1 L944.7,1607.7 L946.7,1603.3 L948.7,1598.8 L950.7,1594.3 L952.7,1589.8 L954.7,1585.3 L956.7,1580.8 L958.7,1576.3 L960.7,1571.8 L962.7,1567.2 L964.7,1562.7 L966.7,1558.2 L968.7,1553.7 L970.7,1549.3 L972.7,1544.8 L974.7,1540.4 L976.7,1536.0 L978.7,1531.7 L980.7,1527.4 L982.7,1523.1 L984.7,1518.9 L986.7,1514.8 L988.7,1510.7 L990.7,1506.7 L992.7,1502.7 L994.7,1498.8 L996.7,1495.0 L998.7,1491.3 L1000.7,1487.7 L1002.7,1484.1 L1004.7,1480.7 L1006.7,1477.3 L1008.7,1474.1 L1010.7,1470.9 L1012.7,1467.9 L1014.7,1465.0 L1016.7,1462.2 L1018.7,1459.6 L1020.7,1457.0 L1022.7,1454.6 L1024.7,1452.3 L1026.7,1450.2 L1028.7,1448.2 L1030.7,1446.3 L1032.7,1444.5 L1034.7,1442.8 L1036.7,1441.3 L1038.7,1439.9 L1040.7,1438.7 L1042.7,1437.6 L1044.7,1436.6 L1046.7,1435.7 L1048.7,1434.9 L1050.7,1434.3 L1052.7,1433.8 L1054.7,1433.5 L1056.7,1433.3 L1058.7,1433.2 L1060.7,1433.2 L1062.7,1433.4 L1064.7,1433.7 L1066.7,1434.1 L1068.7,1434.7 L1070.7,1435.4 L1072.7,1436.2 L1074.7,1437.2 L1076.7,1438.3 L1078.7,1439.5 L1080.7,1440.9 L1082.7,1442.4 L1084.7,1444.0 L1086.7,1445.8 L1088.7,1447.7 L1090.7,1449.7 L1092.7,1451.9 L1094.7,1454.2 L1096.7,1456.6 L1098.7,1459.1 L1100.7,1461.8 L1102.7,1464.5 L1104.7,1467.4 L1106.7,1470.4 L1108.7,1473.4 L1110.7,1476.6 L1112.7,1479.8 L1114.7,1483.1 L1116.7,1486.5 L1118.7,1490.0 L1120.7,1493.5 L1122.7,1497.1 L1124.7,1500.8 L1126.7,1504.5 L1128.7,1508.3 L1130.7,1512.1 L1132.7,1516.0 L1134.7,1519.9 L1136.7,1523.8 L1138.7,1527.8 L1140.7,1531.8 L1142.7,1535.8 L1144.7,1539.8 L1146.7,1543.9 L1148.7,1547.9 L1150.7,1551.9 L1152.7,1556.0 L1154.7,1560.0 L1156.7,1564.1 L1158.7,1568.1 L1160.7,1572.1 L1162.7,1576.0 L1164.7,1580.0 L1166.7,1583.9 L1168.7,1587.8 L1170.7,1591.6 L1172.7,1595.4 L1174.7,1599.1 L1176.7,1602.8 L1178.7,1606.4 L1180.7,1610.0 L1182.7,1613.5 L1184.7,1617.0 L1186.7,1620.4 L1188.7,1623.7 L1190.7,1627.0 L1192.7,1630.2 L1194.7,1633.4 L1196.7,1636.5 L1198.7,1639.5 L1200.7,1642.4 L1202.7,1645.3 L1204.7,1648.0 L1206.7,1650.7 L1208.7,1653.4 L1210.7,1655.9 L1212.7,1658.3 L1214.7,1660.7 L1216.7,1663.0 L1218.7,1665.2 L1220.7,1667.2 L1222.7,1669.2 L1224.7,1671.1 L1226.7,1672.9 L1228.7,1674.6 L1230.7,1676.2 L1232.7,1677.7 L1234.7,1679.1 L1236.7,1680.3 L1238.7,1681.5 L1240.7,1682.5 L1242.7,1683.5 L1244.7,1684.3 L1246.7,1685.0 L1248.7,1685.6 L1250.7,1686.0 L1252.7,1686.4 L1254.7,1686.7 L1256.7,1686.8 L1258.7,1686.8 L1260.7,1686.8 L1262.7,1686.6 L1264.7,1686.4 L1266.7,1686.0 L1268.7,1685.5 L1270.7,1685.0 L1272.7,1684.4 L1274.7,1683.6 L1276.7,1682.8 L1278.7,1681.9 L1280.7,1680.9 L1282.7,1679.8 L1284.7,1678.7 L1286.7,1677.5 L1288.7,1676.1 L1290.7,1674.8 L1292.7,1673.3 L1294.7,1671.8 L1296.7,1670.1 L1298.7,1668.5 L1300.7,1666.7 L1302.7,1664.9 L1304.7,1663.1 L1306.7,1661.1 L1308.7,1659.1 L1310.7,1657.1 L1312.7,1655.0 L1314.7,1652.8 L1316.7,1650.6 L1318.7,1648.3 L1320.7,1646.0 L1322.7,1643.6 L1324.7,1641.2 L1326.7,1638.8 L1328.7,1636.3 L1330.7,1633.7 L1332.7,1631.2 L1334.7,1628.6 L1336.7,1625.9 L1338.7,1623.2 L1340.7,1620.5 L1342.7,1617.8 L1344.7,1615.0 L1346.7,1612.2 L1348.7,1609.4 L1350.7,1606.5 L1352.7,1603.7 L1354.7,1600.8 L1356.7,1597.9 L1358.7,1595.0 L1360.7,1592.0 L1362.7,1589.1 L1364.7,1586.1 L1366.7,1583.2 L1368.7,1580.2 L1370.7,1577.3 L1372.7,1574.3 L1374.7,1571.4 L1376.7,1568.4 L1378.7,1565.5 L1380.7,1562.6 L1382.7,1559.7 L1384.7,1556.8 L1386.7,1554.0 L1388.7,1551.1 L1390.7,1548.3 L1392.7,1545.5 L1394.7,1542.8 L1396.7,1540.1 L1398.7,1537.4 L1400.7,1534.8 L1402.7,1532.2 L1404.7,1529.7 L1406.7,1527.2 L1408.7,1524.7 L1410.7,1522.3 L1412.7,1520.0 L1414.7,1517.7 L1416.7,1515.5 L1418.7,1513.4 L1420.7,1511.3 L1422.7,1509.3 L1424.7,1507.4 L1426.7,1505.5 L1428.7,1503.8 L1430.7,1502.1 L1432.7,1500.4 L1434.7,1498.9 L1436.7,1497.4 L1438.7,1496.1 L1440.7,1494.8 L1442.7,1493.5 L1444.7,1492.4 L1446.7,1491.4 L1448.7,1490.4 L1450.7,1489.6 L1452.7,1488.8 L1454.7,1488.1 L1456.7,1487.5 L1458.7,1487.0 L1460.7,1486.6 L1462.7,1486.3 L1464.7,1486.1 L1466.7,1486.0 L1468.7,1485.9 L1470.7,1486.0 L1472.7,1486.2 L1474.7,1486.5 L1476.7,1486.9 L1478.7,1487.4 L1480.7,1487.9 L1482.7,1488.6 L1484.7,1489.4 L1486.7,1490.3 L1488.7,1491.3 L1490.7,1492.4 L1492.7,1493.6 L1494.7,1494.8 L1496.7,1496.2 L1498.7,1497.6 L1500.7,1499.0 L1502.7,1500.5 L1504.7,1502.1 L1506.7,1503.8 L1508.7,1505.5 L1510.7,1507.2 L1512.7,1509.0 L1514.7,1510.9 L1516.7,1512.7 L1518.7,1514.6 L1520.7,1516.6 L1522.7,1518.5 L1524.7,1520.5 L1526.7,1522.5 L1528.7,1524.5 L1530.7,1526.5 L1532.7,1528.5 L1534.7,1530.6 L1536.7,1532.6 L1538.7,1534.6 L1540.7,1536.6 L1542.7,1538.6 L1544.7,1540.6 L1546.7,1542.6 L1548.7,1544.7 L1550.7,1546.7 L1552.7,1548.7 L1554.7,1550.8 L1556.7,1552.9 L1558.7,1555.0 L1560.7,1557.1 L1562.7,1559.3 L1564.7,1561.5 L1566.7,1563.7 L1568.7,1566.0 L1570.7,1568.3 L1572.7,1570.7 L1574.7,1573.1 L1576.7,1575.5 L1578.7,1578.0 L1580.7,1580.5 L1582.7,1583.0 L1584.7,1585.5 L1586.7,1588.0 L1588.7,1590.5 L1590.7,1592.9 L1592.7,1595.4 L1594.7,1597.8 L1596.7,1600.2 L1598.7,1602.5 L1600.7,1604.8 L1602.7,1607.0 L1604.7,1609.2 L1606.7,1611.3 L1608.7,1613.3 L1610.7,1615.3 L1612.7,1617.2 L1614.7,1619.1 L1616.7,1620.9 L1618.7,1622.6 L1620.7,1624.3 L1622.7,1625.9 L1624.7,1627.5 L1626.7,1629.0 L1628.7,1630.4 L1630.7,1631.8 L1632.7,1633.1 L1634.7,1634.4 L1636.7,1635.5 L1638.7,1636.7 L1640.7,1637.8 L1642.7,1638.8 L1644.7,1639.7 L1646.7,1640.6 L1648.7,1641.5 L1650.7,1642.2 L1652.7,1643.0 L1654.7,1643.6 L1656.7,1644.2 L1658.7,1644.8 L1660.7,1645.2 L1662.7,1645.6 L1664.7,1646.0 L1666.7,1646.3 L1668.7,1646.5 L1670.7,1646.7 L1672.7,1646.8 L1674.7,1646.9 L1676.7,1646.9 L1678.7,1646.8 L1680.7,1646.7 L1682.7,1646.5 L1684.7,1646.2 L1686.7,1645.9 L1688.7,1645.6 L1690.7,1645.1 L1692.7,1644.6 L1694.7,1644.1 L1696.7,1643.5 L1698.7,1642.8 L1700.7,1642.1 L1702.7,1641.3 L1704.7,1640.4 L1706.7,1639.5 L1708.7,1638.5 L1710.7,1637.5 L1712.7,1636.4 L1714.7,1635.2 L1716.7,1634.0 L1718.7,1632.8 L1720.7,1631.4 L1722.7,1630.0 L1724.7,1628.6 L1726.7,1627.1 L1728.7,1625.6 L1730.7,1624.0 L1732.7,1622.3 L1734.7,1620.7 L1736.7,1618.9 L1738.7,1617.2 L1740.7,1615.4 L1742.7,1613.6 L1744.7,1611.7 L1746.7,1609.8 L1748.7,1607.9 L1750.7,1606.0 L1752.7,1604.0 L1754.7,1602.0 L1756.7,1600.0 L1758.7,1598.0 L1760.7,1595.9 L1762.7,1593.9 L1764.7,1591.8 L1766.7,1589.7 L1768.7,1587.7 L1770.7,1585.6 L1772.7,1583.5 L1774.7,1581.4 L1776.7,1579.3 L1778.7,1577.2 L1780.7,1575.1 L1782.7,1573.0 L1784.7,1571.0 L1786.7,1568.9 L1788.7,1566.9 L1790.7,1564.8 L1792.7,1562.8 L1794.7,1560.8 L1796.7,1558.8 L1798.7,1556.9 L1800.7,1555.0 L1802.7,1553.1 L1804.7,1551.2 L1806.7,1549.4 L1808.7,1547.6 L1810.7,1545.8 L1812.7,1544.1 L1814.7,1542.4 L1816.7,1540.8 L1818.7,1539.2 L1820.7,1537.6 L1822.7,1536.1 L1824.7,1534.6 L1826.7,1533.2 L1828.7,1531.9 L1830.7,1530.6 L1832.7,1529.4 L1834.7,1528.2 L1836.7,1527.1 L1838.7,1526.0 L1840.7,1525.0 L1842.7,1524.1 L1844.7,1523.2 L1846.7,1522.4 L1848.7,1521.6 L1850.7,1520.9 L1852.7,1520.2 L1854.7,1519.6 L1856.7,1519.1 L1858.7,1518.6 L1860.7,1518.2 L1862.7,1517.8 L1864.7,1517.5 L1866.7,1517.3 L1868.7,1517.1 L1870.7,1516.9 L1872.7,1516.8 L1874.7,1516.8 L1876.7,1516.8 L1878.7,1516.9 L1880.7,1517.0 L1882.7,1517.2 L1884.7,1517.5 L1886.7,1517.8 L1888.7,1518.1 L1890.7,1518.5 L1892.7,1519.0 L1894.7,1519.5 L1896.7,1520.0 L1898.7,1520.7 L1900.7,1521.3 L1902.7,1522.0 L1904.7,1522.8 L1906.7,1523.6 L1908.7,1524.5 L1910.7,1525.4 L1912.7,1526.4 L1914.7,1527.3 L1916.7,1528.4 L1918.7,1529.5 L1920.7,1530.6 L1922.7,1531.7 L1924.7,1532.9 L1926.7,1534.1 L1928.7,1535.3 L1930.7,1536.6 L1932.7,1537.9 L1934.7,1539.2 L1936.7,1540.5 L1938.7,1541.8 L1940.7,1543.2 L1942.7,1544.6 L1944.7,1546.0 L1946.7,1547.4 L1948.7,1548.9 L1950.7,1550.3 L1952.7,1551.8 L1954.7,1553.2 L1956.7,1554.7 L1958.7,1556.2 L1960.7,1557.6 L1962.7,1559.1 L1964.7,1560.6 L1966.7,1562.1 L1968.7,1563.6 L1970.7,1565.0 L1972.7,1566.5 L1974.7,1568.0 L1976.7,1569.5 L1978.7,1570.9 L1980.7,1572.4 L1982.7,1573.9 L1984.7,1575.3 L1986.7,1576.8 L1988.7,1578.2 L1990.7,1579.6 L1992.7,1581.0 L1994.7,1582.4 L1996.7,1583.8 L1998.7,1585.2 L2000.7,1586.6 L2002.7,1587.9 L2004.7,1589.3 L2006.7,1590.6 L2008.7,1591.9 L2010.7,1593.2 L2012.7,1594.5 L2014.7,1595.7 L2016.7,1596.9 L2018.7,1598.2 L2020.7,1599.3 L2022.7,1600.5 L2024.7,1601.7 L2026.7,1602.8 L2028.7,1603.9 L2030.7,1604.9 L2032.7,1606.0 L2034.7,1607.0 L2036.7,1608.0 L2038.7,1608.9 L2040.7,1609.8 L2042.7,1610.7 L2044.7,1611.6 L2046.7,1612.4 L2048.7,1613.2 L2050.7,1614.0 L2052.7,1614.7 L2054.7,1615.4 L2056.7,1616.0 L2058.7,1616.6 L2060.7,1617.2 L2062.7,1617.8 L2064.7,1618.2 L2066.7,1618.7 L2068.7,1619.1 L2070.7,1619.5 L2072.7,1619.8 L2074.7,1620.1 L2076.7,1620.3 L2078.7,1620.5 L2080.7,1620.6 L2082.7,1620.7 L2084.7,1620.8 L2086.7,1620.8 L2088.7,1620.7 L2090.7,1620.6 L2092.7,1620.4 L2094.7,1620.2 L2096.7,1620.0 L2098.7,1619.7 L2100.7,1619.3 L2102.7,1618.9 L2104.7,1618.5 L2106.7,1618.0 L2108.7,1617.5 L2110.7,1616.9 L2112.7,1616.3 L2114.7,1615.7 L2116.7,1615.0 L2118.7,1614.3 L2120.7,1613.5 L2122.7,1612.7 L2124.7,1611.9 L2126.7,1611.1 L2128.7,1610.2 L2130.7,1609.3 L2132.7,1608.3 L2134.7,1607.4 L2136.7,1606.4 L2138.7,1605.4 L2140.7,1604.4 L2142.7,1603.3 L2144.7,1602.2 L2146.7,1601.1 L2148.7,1600.0 L2150.7,1598.9 L2152.7,1597.7 L2154.7,1596.6 L2156.7,1595.4 L2158.7,1594.2 L2160.7,1593.0 L2162.7,1591.8 L2164.7,1590.6 L2166.7,1589.3 L2168.7,1588.1 L2170.7,1586.9 L2172.7,1585.6 L2174.7,1584.4 L2176.7,1583.1 L2178.7,1581.9 L2180.7,1580.6 L2182.7,1579.4 L2184.7,1578.1 L2186.7,1576.9 L2188.7,1575.6 L2190.7,1574.4 L2192.7,1573.2 L2194.7,1571.9 L2196.7,1570.7 L2198.7,1569.5 L2200.7,1568.3 L2202.7,1567.2 L2204.7,1566.0 L2206.7,1564.9 L2208.7,1563.7 L2210.7,1562.6 L2212.7,1561.5 L2214.7,1560.4 L2216.7,1559.4 L2218.7,1558.3 L2220.7,1557.3 L2222.7,1556.3 L2224.7,1555.4 L2226.7,1554.4 L2228.7,1553.5 L2230.7,1552.7 L2232.7,1551.8 L2234.7,1551.0 L2236.7,1550.2 L2238.7,1549.4 L2240.7,1548.7 L2242.7,1548.0 L2244.7,1547.3 L2246.7,1546.6 L2248.7,1546.0 L2250.7,1545.4 L2252.7,1544.8 L2254.7,1544.3 L2256.7,1543.8 L2258.7,1543.3 L2260.7,1542.9 L2262.7,1542.5 L2264.7,1542.1 L2266.7,1541.7 L2268.7,1541.4 L2270.7,1541.1 L2272.7,1540.9 L2274.7,1540.7 L2276.7,1540.5 L2278.7,1540.3 L2280.7,1540.2 L2282.7,1540.1 L2284.7,1540.0 L2286.7,1540.0 L2288.7,1540.0 L2290.7,1540.1 L2292.7,1540.2 L2294.7,1540.3 L2296.7,1540.4 L2298.7,1540.6 L2300.7,1540.8 L2302.7,1541.1 L2304.7,1541.4 L2306.7,1541.7 L2308.7,1542.1 L2310.7,1542.5 L2312.7,1542.9 L2314.7,1543.4 L2316.7,1543.9 L2318.7,1544.4 L2320.7,1545.0 L2322.7,1545.6 L2324.7,1546.3 L2326.7,1547.0 L2328.7,1547.7 L2330.7,1548.5 L2332.7,1549.3 L2332.8,1549.3" fill="none" stroke="#f00" stroke-width="5.4" stroke-linejoin="round"/></g>
<line x1="1564.6" y1="1311.3" x2="1729.7" y2="1311.3" stroke="#f00" stroke-width="5" stroke-linecap="round"/>
<circle cx="1647.2" cy="1400.0" r="12.6" fill="#fff" stroke="#000" stroke-width="2.7"/>
<text transform="matrix(0.7162,0.0000,0.0000,0.7271,1744.0948,1335.6000)" font-size="100" style="" stroke-width="1.386">Present</text>
<text transform="matrix(0.7169,0.0000,0.0000,0.7241,1744.0927,1423.4000)" font-size="100" style="" stroke-width="1.388">Bai and Teng, 2013</text>
<text transform="matrix(0.0000,-0.9455,0.8521,0.0000,145.4000,1758.9327)" font-size="100" style="font-style:italic" stroke-width="1.114">F</text>
<text transform="matrix(0.0000,-0.6884,0.5930,0.0000,169.5000,1707.0261)" font-size="100" style="font-style:italic" stroke-width="1.565">Z</text>
<text transform="matrix(0.0000,-0.4936,0.5188,0.0000,106.6022,1667.2771)" font-size="100" style="font-style:italic" stroke-width="1.976">(1)</text>
<text transform="matrix(0.0000,-1.2300,1.0000,0.0000,145.5000,1588.7420)" font-size="100" style="font-style:italic" stroke-width="0.902">/</text>
<text transform="matrix(0.0000,-1.0168,0.7771,0.0000,145.8695,1566.8563)" font-size="100" style="font-style:italic" stroke-width="1.125">ρ</text>
<text transform="matrix(0.0000,-1.0571,0.7555,0.0000,146.9813,1531.0397)" font-size="100" style="" stroke-width="1.119">g</text>
<text transform="matrix(0.0000,-0.7931,0.8521,0.0000,145.4000,1485.4207)" font-size="100" style="" stroke-width="1.216">R</text>
<text transform="matrix(0.0000,-0.4770,0.5332,0.0000,113.5000,1427.2000)" font-size="100" style="font-style:italic" stroke-width="1.983">2</text>
<text transform="matrix(0.0000,-0.7650,0.8636,0.0000,145.4000,1402.4692)" font-size="100" style="font-style:italic" stroke-width="1.230">A</text>
<text transform="matrix(0.8252,0.0000,0.0000,0.8554,1226.4244,2104.4653)" font-size="100" style="font-style:italic;font-weight:bold" stroke-width="0.000">t(g/R)</text>
<text transform="matrix(0.4959,0.0000,0.0000,0.5327,1423.8148,2071.5673)" font-size="100" style="font-style:italic" stroke-width="1.167">1/2</text>
<text transform="matrix(0.7180,0.0000,0.0000,0.7927,830.6408,1078.0000)" font-size="100" style="" stroke-width="0.000">(<tspan font-weight="bold">a</tspan>)</text>
<text transform="matrix(0.8295,0.0000,0.0000,0.7927,933.9137,1078.0000)" font-size="100" style="" stroke-width="0.000">Initial displacement</text>
<text transform="matrix(0.7584,0.0000,0.0000,0.7896,916.6631,2246.0000)" font-size="100" style="" stroke-width="0.000">(<tspan font-weight="bold">b</tspan>)</text>
<text transform="matrix(0.8120,0.0000,0.0000,0.7896,1028.3767,2246.0000)" font-size="100" style="" stroke-width="0.000">Initial velocity</text>
</svg>
</body></html>
